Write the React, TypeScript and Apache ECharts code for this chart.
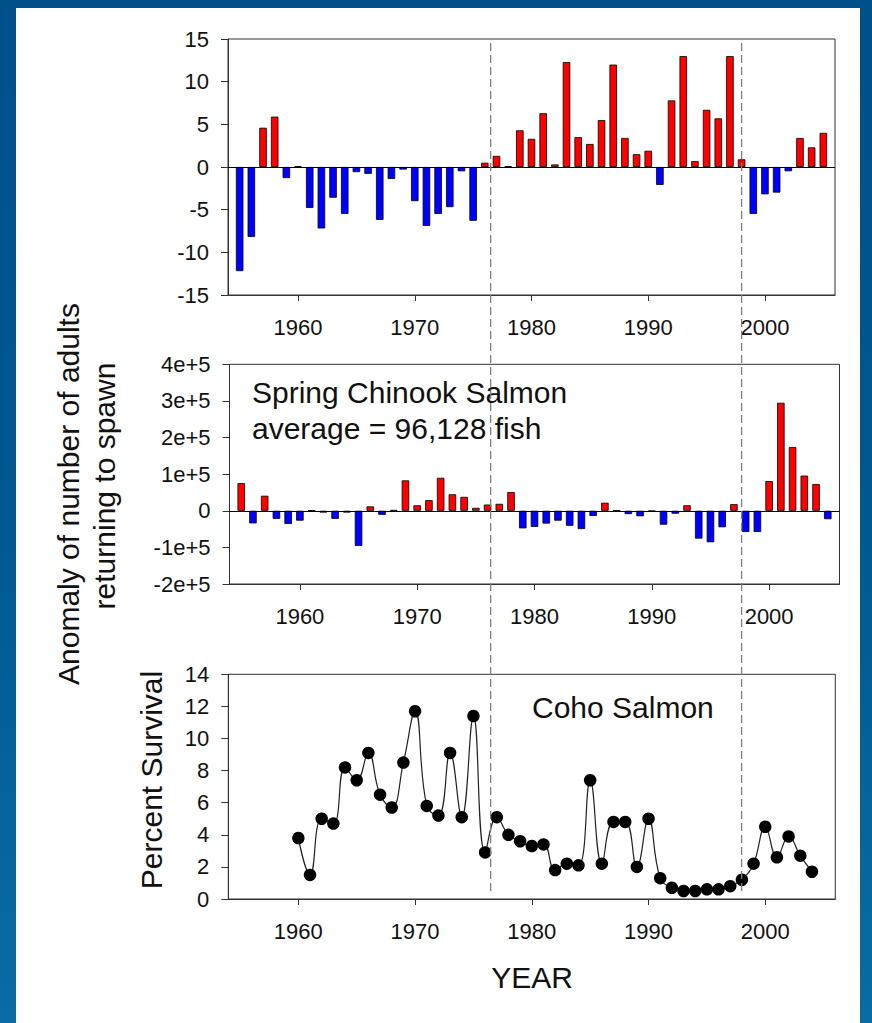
import React, { useEffect, useRef } from 'react';
import * as echarts from 'echarts';

// ---- data ----
const barYears = [
  1955, 1956, 1957, 1958, 1959, 1960, 1961, 1962, 1963, 1964,
  1965, 1966, 1967, 1968, 1969, 1970, 1971, 1972, 1973, 1974,
  1975, 1976, 1977, 1978, 1979, 1980, 1981, 1982, 1983, 1984,
  1985, 1986, 1987, 1988, 1989, 1990, 1991, 1992, 1993, 1994,
  1995, 1996, 1997, 1998, 1999, 2000, 2001, 2002, 2003, 2004, 2005,
];
const adultAnomaly = [
  -12.2, -8.2, 4.6, 5.9, -1.3, 0.1, -4.8, -7.2, -3.6, -5.5,
  -0.6, -0.8, -6.2, -1.4, -0.3, -4.0, -6.9, -5.5, -4.7, -0.5,
  -6.3, 0.5, 1.3, 0.1, 4.3, 3.3, 6.3, 0.3, 12.3, 3.5,
  2.7, 5.5, 12.0, 3.4, 1.5, 1.9, -2.1, 7.8, 13.0, 0.7,
  6.7, 5.7, 13.0, 0.9, -5.5, -3.2, -3.0, -0.5, 3.4, 2.3, 4.0,
];
const chinookAnomaly = [
  75500, -34500, 41000, -22000, -36000, -27000, 1000, -5000, -22000, -5000,
  -96000, 12000, -11000, 2000, 83000, 15000, 29000, 90000, 45000, 38000,
  8000, 17000, 19000, 51000, -48000, -44000, -35000, -27000, -41000, -50000,
  -14000, 22000, 1000, -9000, -15000, -1000, -38000, -8000, 15000, -76000,
  -86000, -45000, 18000, -58000, -58000, 81000, 295000, 174000, 96000, 73000, -23000,
];
const cohoYears = [
  1960, 1961, 1962, 1963, 1964, 1965, 1966, 1967, 1968, 1969,
  1970, 1971, 1972, 1973, 1974, 1975, 1976, 1977, 1978, 1979,
  1980, 1981, 1982, 1983, 1984, 1985, 1986, 1987, 1988, 1989,
  1990, 1991, 1992, 1993, 1994, 1995, 1996, 1997, 1998, 1999,
  2000, 2001, 2002, 2003, 2004,
];
const cohoSurvival = [
  3.8, 1.5, 5.0, 4.7, 8.2, 7.4, 9.1, 6.5, 5.7, 8.5,
  11.7, 5.8, 5.2, 9.1, 5.1, 11.4, 2.9, 5.1, 4.0, 3.6,
  3.3, 3.4, 1.8, 2.2, 2.1, 7.4, 2.2, 4.8, 4.8, 2.0,
  5.0, 1.3, 0.7, 0.5, 0.5, 0.6, 0.6, 0.8, 1.2, 2.2,
  4.5, 2.6, 3.9, 2.7, 1.7,
];
const yearTicks = [1960, 1970, 1980, 1990, 2000];
const regimeShiftYears = [1976.5, 1998];
const chinookTickLabels: Record<string, string> = {
  '-200000': '-2e+5', '-100000': '-1e+5', '0': '0', '100000': '1e+5',
  '200000': '2e+5', '300000': '3e+5', '400000': '4e+5',
};

const FONT = '"Liberation Sans", Arial, Helvetica, sans-serif';
const AXIS_COLOR = '#333';
const RED = '#ff0000';
const BLUE = '#0000ff';

export default function App() {
  const ref = useRef<HTMLDivElement>(null);

  useEffect(() => {
    const chart = echarts.init(ref.current!, undefined, { renderer: 'svg', width: 872, height: 1023 });

    const gridBoxes = [
      { left: 228, top: 39, width: 607, height: 256 },
      { left: 229.5, top: 364.3, width: 610, height: 219.7 },
      { left: 228.3, top: 674.3, width: 607, height: 224.7 },
    ];
    const grid = gridBoxes.map((g) => ({
      ...g,
      show: true,
      borderColor: AXIS_COLOR,
      borderWidth: 1,
      backgroundColor: 'transparent',
      containLabel: false,
    }));

    const xAxis = [0, 1, 2].map((i) => ({
      type: 'value',
      gridIndex: i,
      min: 1954,
      max: 2006,
      axisLine: { show: true, onZero: false, lineStyle: { color: AXIS_COLOR, width: 1 } },
      axisTick: { show: true, length: 6, customValues: yearTicks, lineStyle: { color: AXIS_COLOR } },
      axisLabel: {
        customValues: yearTicks,
        margin: 21,
        fontSize: 22,
        color: '#111',
        fontFamily: FONT,
        formatter: (v: number) => String(Math.round(v)),
      },
      splitLine: { show: false },
    }));

    const yBase = (i: number) => ({
      type: 'value',
      gridIndex: i,
      axisLine: { show: true, onZero: false, lineStyle: { color: AXIS_COLOR, width: 1 } },
      axisTick: { show: true, length: 7, lineStyle: { color: AXIS_COLOR } },
      axisLabel: { margin: 19, fontSize: 22, color: '#111', fontFamily: FONT },
      splitLine: { show: false },
    });

    const yAxis = [
      { ...yBase(0), min: -15, max: 15, interval: 5 },
      {
        ...yBase(1),
        min: -200000,
        max: 400000,
        interval: 100000,
        axisLabel: {
          ...yBase(1).axisLabel,
          formatter: (v: number) => chinookTickLabels[String(Math.round(v))] ?? String(v),
        },
      },
      { ...yBase(2), min: 0, max: 14, interval: 2 },
    ];

    const zeroLine = {
      symbol: 'none',
      silent: true,
      label: { show: false },
      lineStyle: { color: '#000', type: 'solid', width: 1 },
      data: [{ yAxis: 0 }],
    };

    const barData = (vals: number[]) =>
      barYears.map((y, i) => ({
        value: [y, vals[i]],
        itemStyle: { color: vals[i] >= 0 ? RED : BLUE },
      }));

    chart.setOption({
      animation: false,
      grid,
      xAxis,
      yAxis,
      series: [
        {
          type: 'bar',
          name: 'Adults anomaly',
          xAxisIndex: 0,
          yAxisIndex: 0,
          barWidth: 7.5,
          data: barData(adultAnomaly),
          itemStyle: { borderColor: '#000', borderWidth: 0.8 },
          markLine: zeroLine,
        },
        {
          type: 'bar',
          name: 'Spring Chinook',
          xAxisIndex: 1,
          yAxisIndex: 1,
          barWidth: 7.5,
          data: barData(chinookAnomaly),
          itemStyle: { borderColor: '#000', borderWidth: 0.8 },
          markLine: zeroLine,
        },
        {
          type: 'line',
          name: 'Coho survival',
          xAxisIndex: 2,
          yAxisIndex: 2,
          smooth: 0.45,
          symbol: 'circle',
          symbolSize: 12.5,
          itemStyle: { color: '#000' },
          lineStyle: { color: '#222', width: 1.2 },
          data: cohoYears.map((y, i) => [y, cohoSurvival[i]]),
        },
      ],
    });

    const dashXs = regimeShiftYears.map((y) => chart.convertToPixel({ xAxisIndex: 0 }, y) as number);

    const txt = (
      text: string,
      x: number,
      y: number,
      size: number,
      align: string,
      rotation = 0
    ) => ({
      type: 'text',
      x,
      y,
      rotation,
      z: 50,
      style: {
        text,
        font: `${size}px ${FONT}`,
        fill: '#111',
        align,
        verticalAlign: 'middle',
        textAlign: align,
        textVerticalAlign: 'middle',
      },
    });

    chart.setOption({
      graphic: [
        ...dashXs.map((x) => ({
          type: 'line',
          z: 60,
          silent: true,
          shape: { x1: x, y1: 43, x2: x, y2: 895 },
          style: { stroke: '#808080', lineWidth: 1.3, lineDash: [8, 4] },
        })),
        txt('Spring Chinook Salmon', 252, 392.5, 30, 'left'),
        txt('average = 96,128 fish', 252, 428, 30, 'left'),
        txt('Coho Salmon', 532, 707, 30, 'left'),
        txt('YEAR', 532, 977, 30, 'center'),
        txt('Anomaly of number of adults', 68, 494, 30, 'center', Math.PI / 2),
        txt('returning to spawn', 104, 486, 30, 'center', Math.PI / 2),
        txt('Percent Survival', 151, 780, 30, 'center', Math.PI / 2),
      ],
    });

    return () => {
      chart.dispose();
    };
  }, []);

  return (
    <div
      style={{
        position: 'absolute',
        left: 0,
        top: 0,
        width: 872,
        height: 1023,
        overflow: 'hidden',
        background: 'linear-gradient(to bottom, #00508a 0%, #005890 50%, #0a6ca4 100%)',
      }}
    >
      <div
        style={{
          position: 'absolute',
          left: 16,
          top: 8,
          width: 844,
          height: 1015,
          background: '#ffffff',
        }}
      />
      <div ref={ref} style={{ position: 'absolute', left: 0, top: 0, width: 872, height: 1023 }} />
    </div>
  );
}
